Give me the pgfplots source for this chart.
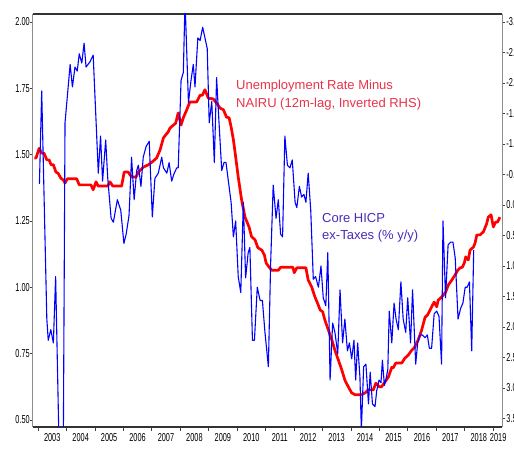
\documentclass[border=0pt]{standalone}
\usepackage{fontspec}
\setmainfont{Liberation Sans}
\newfontfamily\tickfont[FakeStretch=0.64]{Liberation Sans}
\usepackage{pgfplots}
\pgfplotsset{compat=1.18}
\definecolor{hicpblue}{HTML}{0000FF}
\definecolor{gapred}{HTML}{FF0000}
\definecolor{redtxt}{HTML}{E8334A}
\definecolor{bluetxt}{HTML}{4A2BB8}

% Core HICP ex-taxes, % y/y (left axis)
\pgfplotstableread{
t v
2003.05 1.39
2003.13 1.74
2003.31 0.88
2003.36 0.80
2003.45 0.84
2003.54 0.79
2003.62 1.04
2003.74 0.40
2003.89 0.40
2003.95 1.62
2004.13 1.84
2004.21 1.755
2004.30 1.83
2004.38 1.815
2004.45 1.88
2004.54 1.845
2004.62 1.92
2004.69 1.83
2004.83 1.85
2004.94 1.875
2005.06 1.58
2005.12 1.43
2005.20 1.57
2005.27 1.40
2005.38 1.555
2005.45 1.415
2005.57 1.26
2005.65 1.245
2005.79 1.33
2005.91 1.29
2006.02 1.165
2006.10 1.20
2006.20 1.27
2006.29 1.49
2006.38 1.33
2006.47 1.44
2006.53 1.46
2006.62 1.38
2006.70 1.49
2006.80 1.53
2006.91 1.55
2007.02 1.265
2007.11 1.41
2007.23 1.43
2007.35 1.49
2007.41 1.45
2007.53 1.43
2007.61 1.47
2007.70 1.40
2007.79 1.43
2007.88 1.45
2007.93 1.45
2008.03 1.78
2008.11 1.81
2008.17 2.08
2008.29 1.695
2008.38 1.78
2008.46 1.84
2008.52 1.755
2008.62 1.94
2008.70 1.93
2008.79 1.98
2008.87 1.94
2008.95 1.90
2009.02 1.62
2009.11 1.70
2009.20 1.47
2009.28 1.79
2009.36 1.63
2009.46 1.44
2009.54 1.47
2009.61 1.47
2009.79 1.32
2009.87 1.19
2009.95 1.25
2010.04 1.04
2010.13 0.98
2010.22 1.32
2010.30 1.035
2010.39 1.13
2010.45 1.15
2010.54 0.80
2010.61 0.80
2010.71 1.00
2010.81 0.95
2010.89 0.95
2010.98 0.83
2011.10 0.70
2011.18 1.09
2011.27 1.385
2011.37 1.26
2011.45 1.33
2011.53 1.20
2011.60 1.19
2011.68 1.57
2011.77 1.46
2011.86 1.45
2011.94 1.48
2012.04 1.32
2012.10 1.30
2012.19 1.38
2012.27 1.34
2012.35 1.35
2012.42 1.32
2012.50 1.43
2012.59 1.29
2012.68 1.03
2012.76 1.04
2012.86 1.00
2012.95 1.08
2013.03 0.96
2013.12 0.93
2013.19 1.13
2013.27 0.65
2013.36 0.865
2013.44 0.83
2013.54 0.75
2013.62 0.99
2013.71 0.79
2013.79 0.88
2013.88 0.76
2013.95 0.79
2014.03 0.73
2014.11 0.80
2014.17 0.65
2014.24 0.79
2014.32 0.66
2014.37 0.46
2014.45 0.70
2014.53 0.71
2014.62 0.56
2014.68 0.68
2014.76 0.56
2014.85 0.55
2014.91 0.61
2014.99 0.65
2015.06 0.64
2015.11 0.725
2015.18 0.63
2015.23 0.65
2015.30 0.69
2015.35 0.91
2015.44 0.79
2015.52 0.94
2015.59 0.88
2015.67 0.84
2015.76 1.02
2015.84 0.88
2015.93 0.83
2016.00 0.96
2016.10 0.79
2016.17 0.99
2016.28 0.71
2016.35 0.79
2016.43 0.82
2016.51 0.82
2016.61 0.81
2016.69 0.82
2016.76 0.77
2016.84 0.77
2016.93 0.90
2017.02 0.91
2017.10 0.89
2017.19 0.71
2017.24 1.25
2017.33 0.96
2017.42 1.16
2017.51 1.17
2017.59 1.17
2017.67 1.11
2017.77 0.88
2017.86 0.92
2017.94 0.94
2018.02 1.00
2018.09 1.00
2018.17 1.02
2018.25 0.76
2018.32 1.14
}\hicp

% unemployment rate minus NAIRU, 12m lag (right axis, inverted)
\pgfplotstableread{
t r
2002.87 -0.77
2002.93 -0.77
2003.04 -0.93
2003.13 -0.85
2003.21 -0.85
2003.31 -0.74
2003.39 -0.74
2003.46 -0.66
2003.54 -0.66
2003.63 -0.54
2003.71 -0.52
2003.80 -0.44
2003.89 -0.41
2003.95 -0.36
2004.03 -0.43
2004.36 -0.43
2004.45 -0.33
2004.86 -0.33
2004.94 -0.25
2005.04 -0.38
2005.12 -0.31
2005.45 -0.31
2005.53 -0.38
2005.63 -0.31
2005.94 -0.31
2006.03 -0.54
2006.17 -0.54
2006.29 -0.46
2006.45 -0.46
2006.53 -0.54
2006.70 -0.62
2006.88 -0.66
2007.00 -0.70
2007.17 -0.77
2007.29 -0.90
2007.41 -1.10
2007.49 -1.15
2007.58 -1.20
2007.64 -1.26
2007.76 -1.31
2007.84 -1.34
2007.93 -1.51
2008.03 -1.31
2008.11 -1.43
2008.23 -1.56
2008.34 -1.69
2008.58 -1.69
2008.70 -1.80
2008.78 -1.80
2008.87 -1.89
2008.99 -1.75
2009.16 -1.74
2009.28 -1.67
2009.40 -1.59
2009.52 -1.56
2009.63 -1.44
2009.72 -1.43
2009.79 -1.28
2009.87 -1.07
2009.95 -0.79
2010.04 -0.46
2010.16 -0.08
2010.28 0.20
2010.42 0.36
2010.51 0.52
2010.63 0.57
2010.73 0.70
2010.87 0.74
2010.96 0.82
2011.02 0.95
2011.13 1.02
2011.22 1.07
2011.45 1.07
2011.53 1.02
2011.96 1.02
2012.01 1.11
2012.10 1.03
2012.42 1.03
2012.50 1.23
2012.62 1.34
2012.74 1.51
2012.83 1.61
2012.92 1.72
2013.01 1.75
2013.09 1.89
2013.21 2.05
2013.33 2.21
2013.44 2.38
2013.56 2.54
2013.68 2.70
2013.79 2.87
2013.91 2.98
2014.03 3.08
2014.15 3.11
2014.38 3.11
2014.50 3.08
2014.61 3.03
2014.79 3.03
2014.88 2.92
2015.00 2.98
2015.08 2.98
2015.20 2.90
2015.32 2.82
2015.44 2.66
2015.49 2.67
2015.58 2.59
2015.79 2.59
2015.90 2.51
2016.02 2.46
2016.14 2.38
2016.23 2.34
2016.37 2.21
2016.49 2.05
2016.61 1.84
2016.70 1.80
2016.84 1.67
2016.93 1.59
2017.02 1.67
2017.07 1.56
2017.19 1.51
2017.33 1.43
2017.43 1.31
2017.55 1.23
2017.66 1.15
2017.76 1.07
2017.84 1.03
2017.92 1.02
2017.99 0.95
2018.04 0.85
2018.13 0.90
2018.19 0.74
2018.31 0.69
2018.37 0.62
2018.43 0.49
2018.54 0.49
2018.66 0.44
2018.78 0.30
2018.83 0.20
2018.93 0.16
2019.01 0.36
2019.09 0.28
2019.16 0.28
2019.24 0.20
}\ugap

\begin{document}
\begin{tikzpicture}
\pgfplotsset{common/.style={
    width=469pt, height=413pt, scale only axis,
    at={(33pt,25pt)}, anchor=south west,
    xmin=2002.824, xmax=2019.315,
    tick label style={font=\tickfont\fontsize{11.5}{12}\selectfont},
    /pgf/number format/assume math mode=true,
    tick align=outside,
    tick style={black!75, line width=0.6pt},
}}
% right axis (red), drawn first
\begin{axis}[common,
    axis x line*=bottom, axis y line*=right,
    xtick={2003,2004,...,2019}, xticklabels={},
    major tick length=3.5pt,
    x axis line style={-, draw=black, line width=1.3pt},
    y axis line style={-, draw=black!45, line width=1pt},
    ymin=-3.131, ymax=3.639, y dir=reverse,
    ytick={-3,-2.5,-2,-1.5,-1,-0.5,0,0.5,1,1.5,2,2.5,3,3.5},
    yticklabel style={inner sep=0pt, xshift=0.8pt,
        /pgf/number format/.cd, fixed, fixed zerofill, precision=1},
]
\addplot[gapred, line width=2.7pt, line join=round] table[x=t,y=r]{\ugap};
\end{axis}
% left axis (blue)
\begin{axis}[common,
    axis x line*=box, axis y line*=left,
    xtick={2003.5,2004.5,2005.5,2006.5,2007.5,2008.5,2009.5,2010.5,2011.5,2012.5,2013.5,2014.5,2015.5,2016.5,2017.5,2018.5,2019.18},
    xticklabels={2003,2004,2005,2006,2007,2008,2009,2010,2011,2012,2013,2014,2015,2016,2017,2018,2019},
    xtick style={draw=none},
    major tick length=3pt,
    xticklabel style={inner sep=0pt, yshift=-3.5pt},
    x axis line style={-, draw=black!80, line width=1.3pt},
    y axis line style={-, draw=black!45, line width=1pt},
    ymin=0.473, ymax=2.030,
    ytick={0.5,0.75,1,1.25,1.5,1.75,2},
    yticklabel style={inner sep=0pt,
        /pgf/number format/.cd, fixed, fixed zerofill, precision=2},
]
\addplot[hicpblue, line width=1.1pt, line join=round] table[x=t,y=v]{\hicp};
\end{axis}
\begin{scope}[font=\fontsize{13}{15}\selectfont]
\node[anchor=base west, inner sep=0pt, text=redtxt] at (236pt,362pt) {Unemployment Rate Minus};
\node[anchor=base west, inner sep=0pt, text=redtxt] at (236pt,344pt) {NAIRU (12m-lag, Inverted RHS)};
\node[anchor=base west, inner sep=0pt, text=bluetxt] at (322pt,229.7pt) {Core HICP};
\node[anchor=base west, inner sep=0pt, text=bluetxt] at (322pt,212.5pt) {ex-Taxes (\% y/y)};
\end{scope}
\pgfresetboundingbox
\path[use as bounding box] (0,0) rectangle (514pt,452pt);
\end{tikzpicture}
\end{document}
